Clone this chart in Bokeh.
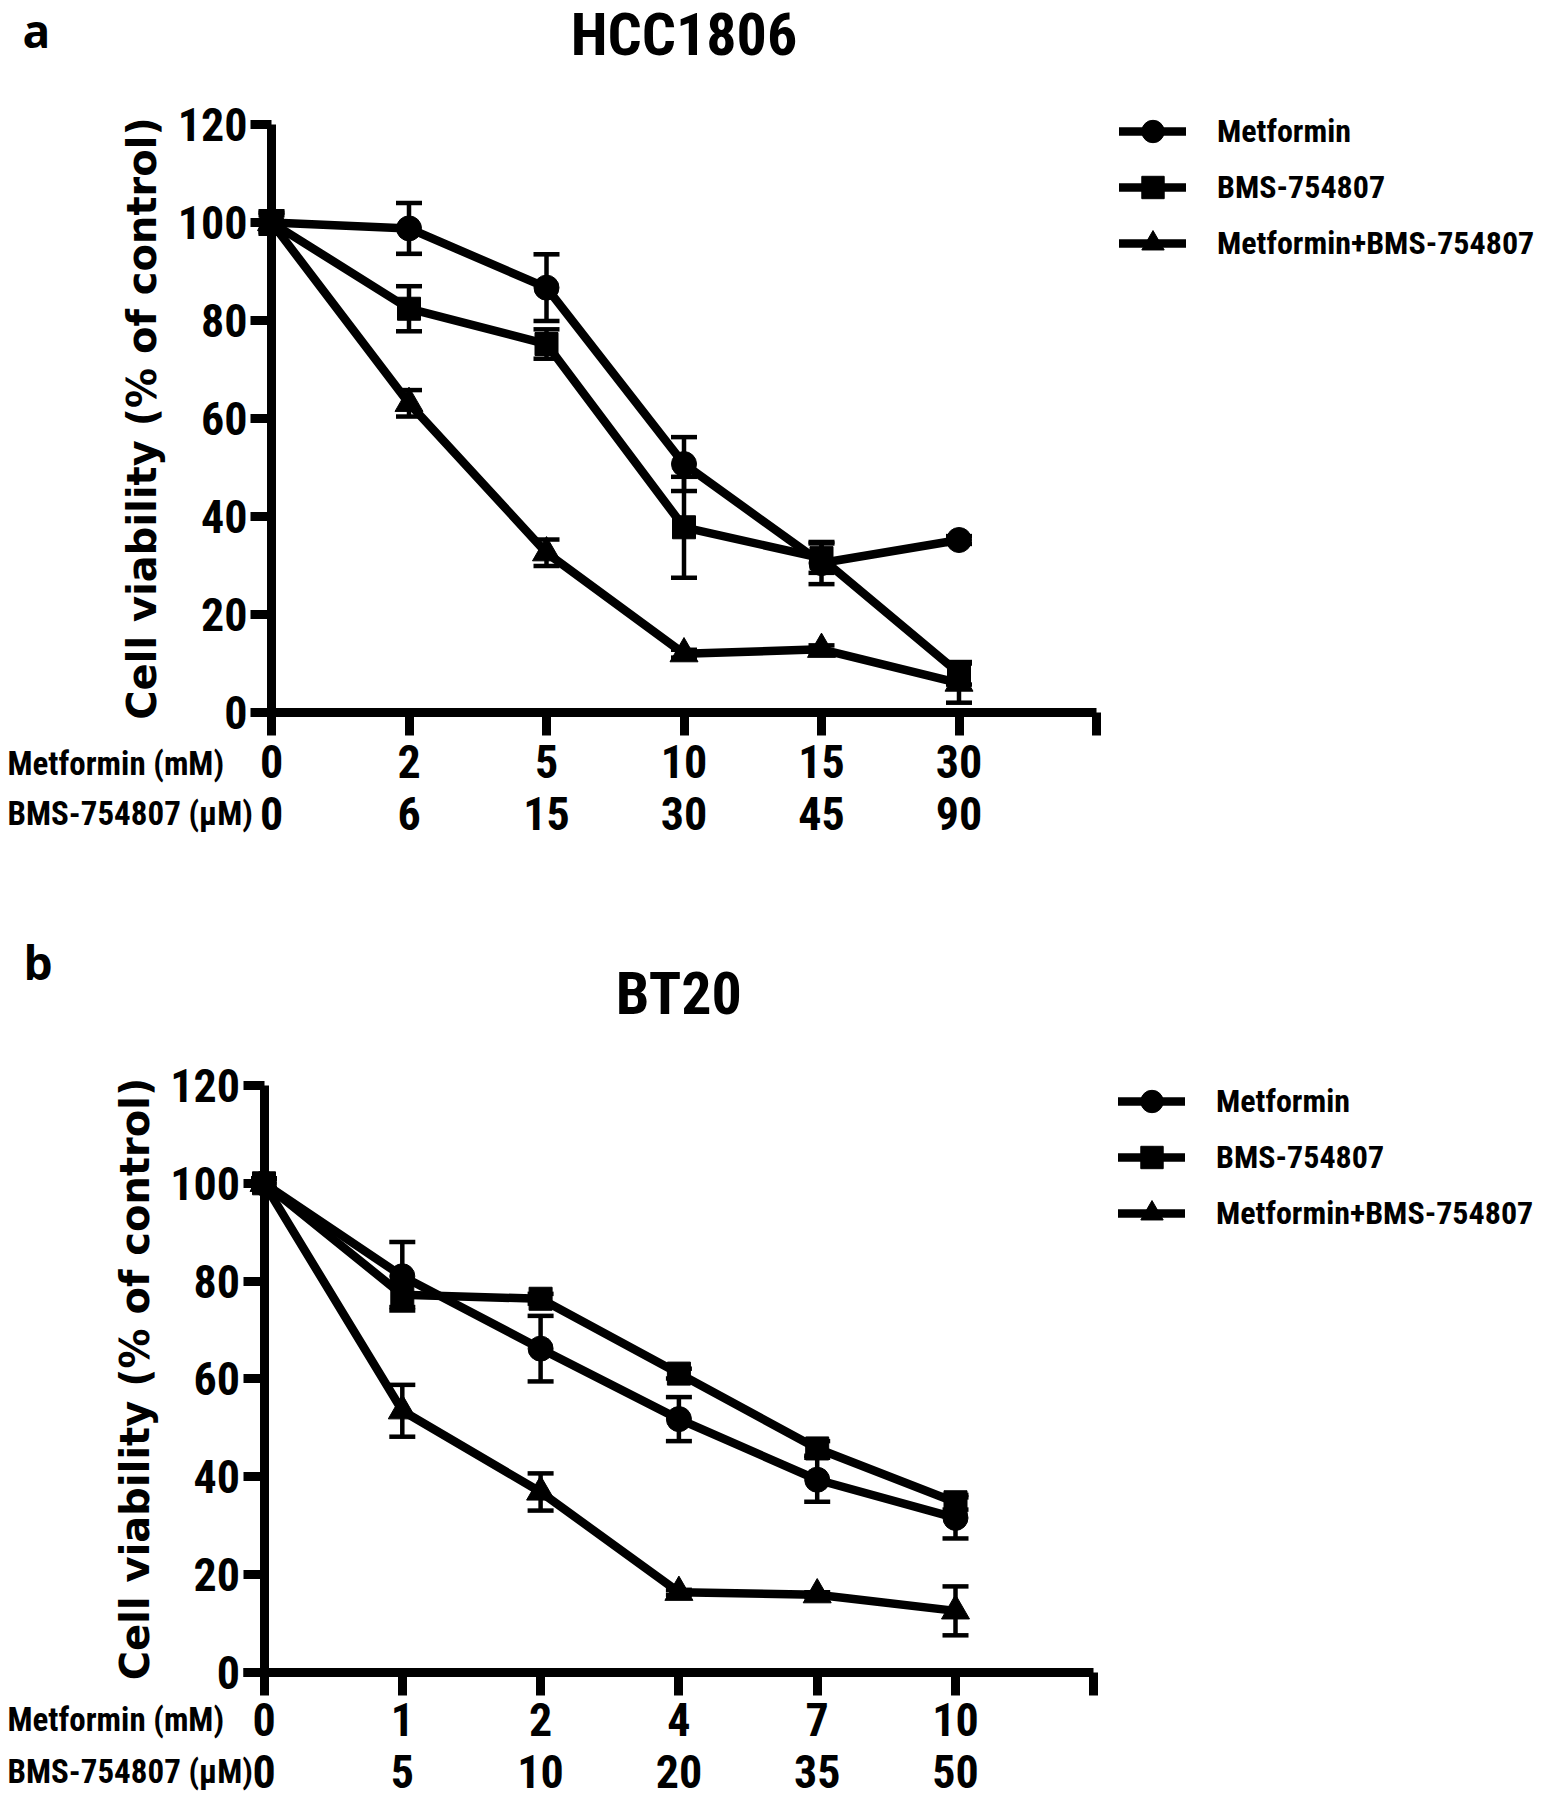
from bokeh.plotting import figure
from bokeh.models import (Range1d, FixedTicker, LinearAxis, Label, Legend, LegendItem,
                          ColumnDataSource, Whisker, TeeHead)
from bokeh.layouts import column
from bokeh.embed import file_html
from bokeh.resources import INLINE

# ---------------- data ----------------
positions = [0, 1, 2, 3, 4, 5]
axis_end = 6
series_names = ["Metformin", "BMS-754807", "Metformin+BMS-754807"]
row_titles = ["Metformin (mM)", "BMS-754807 (\u03bcM)"]
y_ticks = [0, 20, 40, 60, 80, 100, 120]
y_label = "Cell viability (% of control)"

a_tag = "a"
a_title = "HCC1806"
a_metformin_mM = ["0", "2", "5", "10", "15", "30"]
a_bms_uM = ["0", "6", "15", "30", "45", "90"]
a_met_mean = [100, 98.8, 86.7, 50.7, 30.5, 35.2]
a_met_sd = [2.0, 5.2, 6.8, 5.5, 4.3, 0.8]
a_bms_mean = [100, 82.4, 75.2, 37.8, 31.5, 8.0]
a_bms_sd = [2.3, 4.6, 3.0, 10.3, 3.0, 2.3]
a_combo_mean = [100, 63.1, 32.6, 12.0, 12.9, 6.0]
a_combo_sd = [1.5, 2.7, 2.7, 0.8, 0.8, 4.0]

b_tag = "b"
b_title = "BT20"
b_metformin_mM = ["0", "1", "2", "4", "7", "10"]
b_bms_uM = ["0", "5", "10", "20", "35", "50"]
b_met_mean = [100, 81.0, 66.2, 51.8, 39.4, 31.6]
b_met_sd = [1.0, 7.0, 6.7, 4.5, 4.5, 4.2]
b_bms_mean = [100, 77.2, 76.4, 61.1, 45.8, 34.8]
b_bms_sd = [1.0, 2.5, 1.0, 1.0, 1.5, 1.5]
b_combo_mean = [100, 53.5, 36.9, 16.4, 15.9, 12.6]
b_combo_sd = [1.0, 5.3, 3.8, 0.5, 0.5, 5.0]

# ---------------- style / layout ----------------
NARROW = ("Liberation Sans Narrow, Arial Narrow, Roboto Condensed, "
          "DejaVu Sans Condensed, Noto Sans Condensed, Liberation Sans")
MARKERS = ["circle", "square", "triangle"]
MSIZE = [25, 23, 28]

GEOM_A = dict(W=1552, H=930, x0=271, ux=137.5, y0=712, uy=4.9,
              tag_xy=(22, 29), title_y=34, s1=9, s2=84, rows=(51, 101),
              leg_top=83, leg_left=1119)
GEOM_B = dict(W=1552, H=870, x0=263.5, ux=138.3, y0=742, uy=4.892,
              tag_xy=(23, 31), title_y=63, s1=7, s2=82, rows=(47, 99),
              leg_top=123, leg_left=1118)


def style_text_axis(ax, size="46px"):
    ax.major_label_text_font = NARROW
    ax.major_label_text_font_style = "bold"
    ax.major_label_text_font_size = size
    ax.major_label_text_color = "black"


def make_panel(tag, title, met_lbls, bms_lbls, means, sds, G):
    W, H = G["W"], G["H"]
    x0, ux, y0, uy = G["x0"], G["ux"], G["y0"], G["uy"]

    def sx(px):
        return (px - x0) / ux

    def sy(py):
        return (y0 - py) / uy

    p = figure(width=W, height=H,
               x_range=Range1d(sx(0), sx(W)), y_range=Range1d(sy(H), sy(0)),
               min_border=0, output_backend="svg", toolbar_location=None,
               background_fill_color="white", border_fill_color="white")
    p.outline_line_color = None
    p.xgrid.visible = False
    p.ygrid.visible = False

    left_bound = sx(x0 - 20.5)
    ticks_x = positions + [axis_end]

    # x axis (Metformin row)
    xa = p.xaxis[0]
    xa.fixed_location = 0
    xa.bounds = (left_bound, axis_end)
    xa.ticker = FixedTicker(ticks=ticks_x)
    ov = {i: t for i, t in zip(positions, met_lbls)}
    ov[axis_end] = ""
    xa.major_label_overrides = ov
    xa.axis_line_width = 9
    xa.axis_line_color = "black"
    xa.major_tick_line_width = 9
    xa.major_tick_line_color = "black"
    xa.major_tick_out = 23
    xa.major_tick_in = 0
    xa.minor_tick_line_color = None
    xa.minor_tick_out = 0
    xa.minor_tick_in = 0
    xa.major_label_standoff = G["s1"]
    style_text_axis(xa)

    # second x axis (BMS row)
    xb = LinearAxis(ticker=FixedTicker(ticks=ticks_x), fixed_location=0,
                    bounds=(left_bound, axis_end))
    ov2 = {i: t for i, t in zip(positions, bms_lbls)}
    ov2[axis_end] = ""
    xb.major_label_overrides = ov2
    xb.axis_line_color = None
    xb.major_tick_line_color = None
    xb.minor_tick_line_color = None
    xb.major_tick_out = 0
    xb.major_tick_in = 0
    xb.minor_tick_out = 0
    xb.minor_tick_in = 0
    xb.major_label_standoff = G["s2"]
    style_text_axis(xb)
    p.add_layout(xb, "below")

    # y axis
    ya = p.yaxis[0]
    ya.fixed_location = 0
    ya.bounds = (y_ticks[0], y_ticks[-1])
    ya.ticker = FixedTicker(ticks=y_ticks)
    ya.axis_line_width = 9
    ya.axis_line_color = "black"
    ya.major_tick_line_width = 9
    ya.major_tick_line_color = "black"
    ya.major_tick_in = 0
    ya.major_tick_out = 21
    ya.minor_tick_line_color = None
    ya.minor_tick_out = 0
    ya.minor_tick_in = 0
    ya.major_label_standoff = 3
    style_text_axis(ya)
    ya.axis_label = y_label
    ya.axis_label_text_font = "DejaVu Sans"
    ya.axis_label_text_font_style = "bold"
    ya.axis_label_text_font_size = "40px"
    ya.axis_label_text_color = "black"
    ya.axis_label_standoff = 10

    items = []
    for k in range(3):
        m = means[k]
        s = sds[k]
        src = ColumnDataSource(dict(x=positions,
                                    upper=[mi + si for mi, si in zip(m, s)],
                                    lower=[mi - si for mi, si in zip(m, s)]))
        p.add_layout(Whisker(source=src, base="x", upper="upper", lower="lower",
                             line_width=4.5, line_color="black",
                             upper_head=TeeHead(size=26, line_width=4.5, line_color="black"),
                             lower_head=TeeHead(size=26, line_width=4.5, line_color="black")))
        lr = p.line(positions, m, line_width=8.5, line_color="black", line_cap="round",
                    line_join="round")
        sr = p.scatter(positions, m, marker=MARKERS[k], size=MSIZE[k],
                       fill_color="black", line_color="black")
        items.append(LegendItem(label=series_names[k], renderers=[lr, sr]))

    leg_h = 10 + 3 * 56 + 10
    leg = Legend(items=items, location=(G["leg_left"], H - (G["leg_top"] + leg_h)),
                 glyph_width=67, glyph_height=56, label_height=56, spacing=0,
                 padding=10, margin=0, label_standoff=31,
                 label_text_font=NARROW, label_text_font_style="bold",
                 label_text_font_size="32px", label_text_color="black",
                 border_line_color=None, background_fill_alpha=0)
    p.add_layout(leg)

    p.add_layout(Label(x=(positions[0] + axis_end) / 2, y=sy(G["title_y"]), text=title,
                       text_align="center", text_baseline="middle",
                       text_font=NARROW, text_font_style="bold", text_font_size="60px",
                       text_color="black"))
    p.add_layout(Label(x=sx(G["tag_xy"][0]), y=sy(G["tag_xy"][1]), text=tag,
                       text_align="left", text_baseline="middle",
                       text_font="Open Sans", text_font_style="bold", text_font_size="46px",
                       text_color="black"))
    for t, dy in zip(row_titles, G["rows"]):
        p.add_layout(Label(x=sx(7), y=sy(y0 + dy), text=t, text_align="left",
                           text_baseline="middle", text_font=NARROW, text_font_style="bold",
                           text_font_size="33px", text_color="black"))
    return p


pa = make_panel(a_tag, a_title, a_metformin_mM, a_bms_uM,
                [a_met_mean, a_bms_mean, a_combo_mean],
                [a_met_sd, a_bms_sd, a_combo_sd], GEOM_A)
pb = make_panel(b_tag, b_title, b_metformin_mM, b_bms_uM,
                [b_met_mean, b_bms_mean, b_combo_mean],
                [b_met_sd, b_bms_sd, b_combo_sd], GEOM_B)

layout = column(pa, pb)
open("out.html", "w").write(file_html(layout, INLINE))
